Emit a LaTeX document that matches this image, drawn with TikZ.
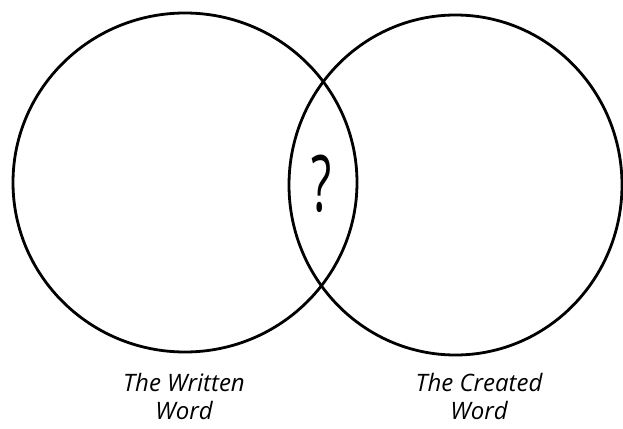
\documentclass[tikz,border=0pt]{standalone}
\usepackage{fontspec}
\setmainfont{Open Sans}
\usetikzlibrary{shapes.geometric,positioning}
\tikzset{
    setring/.style={draw, ellipse, line width=2.8pt, inner sep=0pt},
    setlabel/.style={align=center, font=\fontsize{24}{28}\selectfont\itshape},
    qmark/.style={inner sep=0pt, font=\fontsize{78}{78}\selectfont}
}
\begin{document}
\begin{tikzpicture}[x=1pt,y=-1pt]
\useasboundingbox (0,0) rectangle (623,428);
\node[setring, minimum width=344pt, minimum height=339pt] (written) at (185,182.5) {};
\node[setring, minimum width=333pt, minimum height=340pt] (created) at (455.5,185) {};
\node[qmark] (overlap) at (322,184) {\scalebox{0.6}[1]{?}};
\node[setlabel] (writtenlbl) at (184,396) {The Written\\Word};
\node[setlabel] (createdlbl) at (479,396) {The Created\\Word};
\end{tikzpicture}
\end{document}
